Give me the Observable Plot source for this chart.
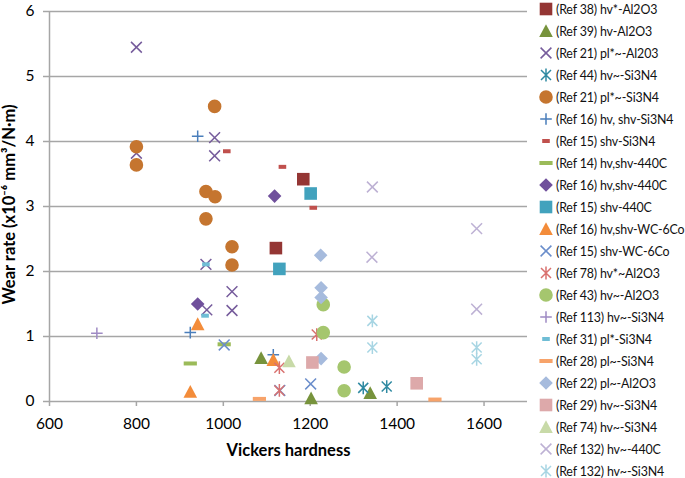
<!DOCTYPE html>
<html><head><meta charset="utf-8">
<script src="https://cdn.jsdelivr.net/npm/d3@7"></script>
<script src="https://cdn.jsdelivr.net/npm/@observablehq/plot@0.6"></script>
<style>
html,body{margin:0;padding:0;background:#fff;}
#chart{position:relative;width:685px;height:478px;overflow:hidden;font-family:Lato,sans-serif;}
#legend{position:absolute;left:538px;top:-2px;}
.row{height:22px;display:flex;align-items:center;white-space:nowrap;font-size:12.4px;letter-spacing:-0.15px;color:#111;}
.row svg{flex:none;margin-right:2px;}
</style></head><body><div id="chart"></div>
<script>
// ---- data ----
const seriesNames = [
  "(Ref 38) hv*-Al2O3", "(Ref 39) hv-Al2O3", "(Ref 21) pl*~-Al203", "(Ref 44) hv~-Si3N4",
  "(Ref 21) pl*~-Si3N4", "(Ref 16) hv, shv-Si3N4", "(Ref 15) shv-Si3N4", "(Ref 14) hv,shv-440C",
  "(Ref 16) hv,shv-440C", "(Ref 15) shv-440C", "(Ref 16) hv,shv-WC-6Co", "(Ref 15) shv-WC-6Co",
  "(Ref 78) hv*~Al2O3", "(Ref 43) hv~-Al2O3", "(Ref 113) hv~-Si3N4", "(Ref 31) pl*-Si3N4",
  "(Ref 28) pl~-Si3N4", "(Ref 22) pl~-Al2O3", "(Ref 29) hv~-Si3N4", "(Ref 74) hv~-Si3N4",
  "(Ref 132) hv~-440C", "(Ref 132) hv~-Si3N4"
];
const hardness = [
  [1184, 1121],
  [1087, 1202, 1338],
  [800, 800, 980, 980, 960, 1020, 1020, 962],
  [1322, 1376],
  [800, 800, 980, 960, 981, 960, 1020, 1020],
  [941, 924, 1115],
  [1008, 1136, 1207],
  [924, 1002],
  [1118, 941],
  [1201, 1129],
  [941, 924, 1115],
  [1002, 1201, 1130],
  [1129, 1129, 1215],
  [1230, 1230, 1278, 1278],
  [709],
  [960, 958],
  [1083, 1487],
  [1224, 1225, 1225, 1225],
  [1205, 1445],
  [1151],
  [1343, 1583, 1342, 1583],
  [1343, 1343, 1583, 1583]
];
const wearRate = [
  [3.42, 2.36],
  [0.67, 0.05, 0.13],
  [5.45, 3.82, 4.06, 3.78, 2.11, 1.69, 1.40, 1.41],
  [0.21, 0.23],
  [3.92, 3.64, 4.54, 3.23, 3.15, 2.81, 2.38, 2.10],
  [4.08, 1.06, 0.72],
  [3.85, 3.61, 2.98],
  [0.585, 0.88],
  [3.16, 1.50],
  [3.20, 2.04],
  [1.19, 0.15, 0.64],
  [0.87, 0.27, 0.17],
  [0.52, 0.17, 1.03],
  [1.49, 1.06, 0.53, 0.165],
  [1.05],
  [2.11, 1.32],
  [0.04, 0.03],
  [2.25, 1.75, 1.60, 0.66],
  [0.60, 0.28],
  [0.62],
  [3.30, 2.66, 2.22, 1.42],
  [1.24, 0.83, 0.83, 0.65]
];
const xTicks = [600, 800, 1000, 1200, 1400, 1600];
const yTicks = [0, 1, 2, 3, 4, 5, 6];

// ---- styles ----
const SYM = {
  square:   {draw(c){c.rect(-6.3,-6.3,12.6,12.6);}},
  circle:   {draw(c){c.moveTo(6.8,0);c.arc(0,0,6.8,0,2*Math.PI);}},
  triangle: {draw(c){c.moveTo(0,-6.8);c.lineTo(6.8,6);c.lineTo(-6.8,6);c.closePath();}},
  diamond:  {draw(c){c.moveTo(0,-6.8);c.lineTo(6.8,0);c.lineTo(0,6.8);c.lineTo(-6.8,0);c.closePath();}},
  times:    {draw(c){const a=5.4;c.moveTo(-a,-a);c.lineTo(a,a);c.moveTo(-a,a);c.lineTo(a,-a);}},
  plus:     {draw(c){const a=5.8;c.moveTo(-a,0);c.lineTo(a,0);c.moveTo(0,-a);c.lineTo(0,a);}},
  asterisk: {draw(c){const a=5,b=6.4;c.moveTo(-a,-a);c.lineTo(a,a);c.moveTo(-a,a);c.lineTo(a,-a);c.moveTo(0,-b);c.lineTo(0,b);}},
  dash:     {draw(c){c.rect(-3.8,-2,7.6,4);}},
  longDash: {draw(c){c.rect(-6.6,-2,13.2,4);}}
};
const strokeKinds = new Set(["times","plus","asterisk"]);
const symbolKinds = ["square","triangle","times","asterisk","circle","plus","dash","longDash",
  "diamond","square","triangle","times","asterisk","circle","plus","dash",
  "longDash","diamond","square","triangle","times","asterisk"];
const colors = ["#943634","#77933C","#765C9C","#2F8AA2","#C5752F","#4A7EBB","#C0504D","#9BBB59",
  "#70509C","#42A2BD","#F38C3A","#6A8DCB","#D9716F","#A5C66E","#9F8BC4","#6FBDD5",
  "#F7A36A","#A6BBDD","#DDA9AA","#C8DAA8","#BDB1D4","#A7D5E3"];

const seriesMarks = seriesNames.map((name, i) => {
  const rows = hardness[i].map((h, j) => ({h, w: wearRate[i][j]}));
  const k = symbolKinds[i];
  const st = strokeKinds.has(k);
  return Plot.dot(rows, {
    x: "h", y: "w", r: 6, symbol: SYM[k],
    fill: st ? "none" : colors[i],
    stroke: st ? colors[i] : "none",
    strokeWidth: st ? 1.5 : 0
  });
});

const plot = Plot.plot({
  width: 530, height: 478,
  marginLeft: 49, marginRight: 3, marginTop: 11, marginBottom: 77,
  x: {domain: [600, 1700]},
  y: {domain: [0, 6]},
  style: {fontFamily: "Lato, sans-serif", fontSize: "15.5px", color: "#000", background: "#fff"},
  marks: [
    Plot.ruleY(yTicks, {stroke: "#A6A6A6", strokeWidth: 1.5}),
    Plot.ruleX([600], {stroke: "#A6A6A6", strokeWidth: 1.5}),
    Plot.axisY({ticks: yTicks, tickFormat: d => String(d), tickSize: 6, tickPadding: 9, label: null, stroke: "#A6A6A6", strokeWidth: 1.5, fill: "#000"}),
    Plot.axisX({ticks: xTicks, tickFormat: d => String(d), tickSize: 5, tickPadding: 11, label: null, stroke: "#A6A6A6", strokeWidth: 1.5, fill: "#000"}),
    Plot.text(["Wear rate (x10\u207B\u2076 mm\u00B3/N\u00B7m)"], {frameAnchor: "left", textAnchor: "middle", rotate: -90, dx: -40, dy: -2, fontWeight: "bold", fontSize: 16.5, fill: "#000"}),
    Plot.text(["Vickers hardness"], {frameAnchor: "bottom", dy: 54, fontWeight: "bold", fontSize: 16.5, fill: "#000"}),
    ...seriesMarks
  ]
});

const chart = document.getElementById("chart");
chart.appendChild(plot);

// legend
const legend = document.createElement("div");
legend.id = "legend";
seriesNames.forEach((name, i) => {
  const k = symbolKinds[i];
  const st = strokeKinds.has(k);
  const row = document.createElement("div");
  row.className = "row";
  const svg = d3.create("svg").attr("width", 16).attr("height", 16);
  svg.append("path")
    .attr("transform", "translate(8,8)")
    .attr("d", d3.symbol(SYM[k])())
    .attr("fill", st ? "none" : colors[i])
    .attr("stroke", st ? colors[i] : "none")
    .attr("stroke-width", st ? 1.5 : 0);
  row.appendChild(svg.node());
  const span = document.createElement("span");
  span.textContent = name;
  row.appendChild(span);
  legend.appendChild(row);
});
chart.appendChild(legend);
</script></body></html>
